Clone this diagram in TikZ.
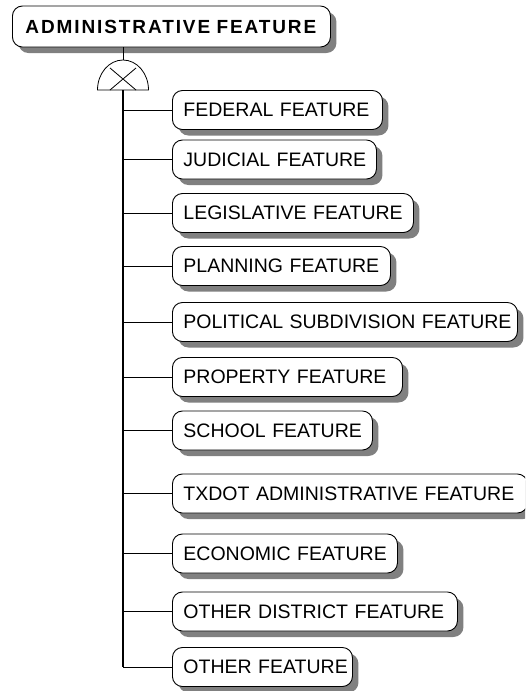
\documentclass[tikz,border=0pt]{standalone}
\usepackage{fontspec}
\setmainfont{Liberation Sans}
\usetikzlibrary{shadows}
\begin{document}
\begin{tikzpicture}[x=1pt,y=-1pt,
  shadowed/.style={drop shadow={shadow xshift=6pt,shadow yshift=-6pt,fill=black!50,opacity=1}},
  featbox/.style={draw=black,line width=0.9pt,fill=white,rounded corners=10pt,shadowed,
    anchor=west,minimum height=39pt,inner xsep=11pt,inner ysep=0pt,align=left,
    font=\fontsize{19.5}{21}\selectfont},
  topbox/.style={draw=black,line width=0.9pt,fill=white,rounded corners=10pt,shadowed,
    anchor=west,minimum height=41pt,inner xsep=13pt,inner ysep=0pt,align=left,
    font=\fontsize{19}{21}\selectfont\bfseries\addfontfeature{LetterSpace=10}},
  link/.style={line width=0.8pt},
  trunk/.style={line width=1.8pt}]
\useasboundingbox (0,0) rectangle (525,691);
\clip (0,0) rectangle (525,691);
\node[topbox,text width=292pt] (top) at (12,26.5) {\mbox{ADMINISTRATIVE FEATURE}};
\coordinate (gtop) at (123,60);
\coordinate (gbot) at (123,90);
\draw[link] (gtop |- top.south) -- (gtop);
\draw[link,fill=white] (97.5,90) arc[start angle=180,end angle=360,x radius=25.5,y radius=30] -- cycle;
\draw[link] (110,68) -- (136,90) (136,68) -- (110,90);
\node[featbox,text width=188pt] (b1) at (172,110) {\mbox{FEDERAL FEATURE}};
\node[featbox,text width=182pt] (b2) at (172,159.5) {\mbox{JUDICIAL FEATURE}};
\node[featbox,text width=219pt] (b3) at (172,213) {\mbox{LEGISLATIVE FEATURE}};
\node[featbox,text width=196pt] (b4) at (172,266) {\mbox{PLANNING FEATURE}};
\node[featbox,text width=323pt] (b5) at (172,322) {\mbox{POLITICAL SUBDIVISION FEATURE}};
\node[featbox,text width=208pt] (b6) at (172,377) {\mbox{PROPERTY FEATURE}};
\node[featbox,text width=178pt] (b7) at (172,430.5) {\mbox{SCHOOL FEATURE}};
\node[featbox,text width=333pt] (b8) at (172,493.5) {\mbox{TXDOT ADMINISTRATIVE FEATURE}};
\node[featbox,text width=203pt] (b9) at (172,553.5) {\mbox{ECONOMIC FEATURE}};
\node[featbox,text width=263pt] (b10) at (172,611.5) {\mbox{OTHER DISTRICT FEATURE}};
\node[featbox,text width=158pt] (b11) at (172,667) {\mbox{OTHER FEATURE}};
\draw[trunk] (gbot) -- (gbot |- b11.west);
\foreach \b in {b1,b2,b3,b4,b5,b6,b7,b8,b9,b10,b11}
  \draw[link] (gbot |- \b.west) -- (\b.west);
\end{tikzpicture}
\end{document}
